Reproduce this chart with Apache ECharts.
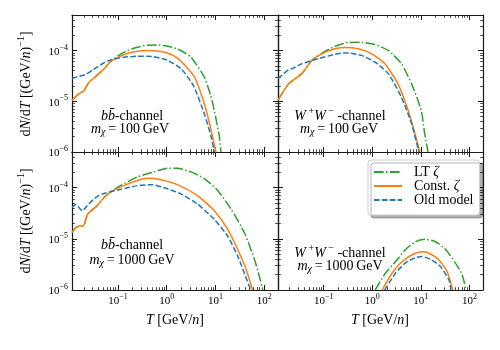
<!DOCTYPE html>
<html><head><meta charset="utf-8">
<script src="https://cdn.jsdelivr.net/npm/echarts@6/dist/echarts.min.js"></script>
<style>html,body{margin:0;padding:0;background:#fff}#c{width:500px;height:350px}</style>
</head><body><div id="c"></div>
<script>
// ---------------- data (T in GeV/n, dN/dT in (GeV/n)^-1) ----------------
const seriesNames = ['LT ζ', 'Const. ζ', 'Old model'];
const xTickExps = [-1, 0, 1, 2];
const yTickExps = [-6, -5, -4];

// top-left: b b-bar, m = 100 GeV
const tlLT = [[0.0115,1.05e-5],[0.0158,1.4e-5],[0.02,1.6e-5],[0.0251,2.3e-5],[0.0355,3.1e-5],[0.0501,4.2e-5],[0.0708,6.0e-5],[0.1,7.8e-5],[0.158,1.0e-4],[0.251,1.16e-4],[0.398,1.27e-4],[0.631,1.28e-4],[1,1.23e-4],[1.58,1.09e-4],[2.51,8.7e-5],[3.16,7.4e-5],[5.89,3.0e-5],[7.94,1.3e-5],[9.44,6.6e-6],[12.0,2.0e-6],[12.9,1.0e-6]];
const tlConst = [[0.0115,1.05e-5],[0.0158,1.4e-5],[0.02,1.6e-5],[0.0251,2.3e-5],[0.0355,3.1e-5],[0.0501,4.2e-5],[0.0708,6.0e-5],[0.1,7.3e-5],[0.158,8.8e-5],[0.251,9.7e-5],[0.398,1.0e-4],[0.631,9.8e-5],[1,9.0e-5],[1.58,7.3e-5],[2.51,4.8e-5],[3.72,3.0e-5],[5.89,9.0e-6],[8.13,2.7e-6],[10.2,1.0e-6]];
const tlOld = [[0.0115,2.8e-5],[0.0158,3.1e-5],[0.0224,3.4e-5],[0.0316,4.2e-5],[0.0501,5.6e-5],[0.0708,6.5e-5],[0.126,7.3e-5],[0.251,7.7e-5],[0.501,7.6e-5],[1,6.5e-5],[2.0,4.3e-5],[3.55,2.0e-5],[5.89,5.7e-6],[8.13,2.0e-6],[9.44,1.0e-6]];

// top-right: W+W-, m = 100 GeV
const trLT = [[0.0115,1.05e-5],[0.019,2.2e-5],[0.0355,3.5e-5],[0.0575,6.4e-5],[0.0912,8.8e-5],[0.17,1.21e-4],[0.324,1.44e-4],[0.603,1.45e-4],[1.14,1.31e-4],[2.14,1.0e-4],[3.98,5.5e-5],[6.46,2.2e-5],[10.2,6.6e-6],[12.0,2.3e-6],[14.1,1.0e-6]];
const trConst = [[0.0115,1.05e-5],[0.019,2.2e-5],[0.0355,3.5e-5],[0.0575,6.4e-5],[0.0912,8.6e-5],[0.17,1.08e-4],[0.275,1.15e-4],[0.513,1.08e-4],[0.98,8.6e-5],[1.82,5.5e-5],[3.39,2.2e-5],[5.5,6.6e-6],[7.59,2.3e-6],[9.55,1.0e-6]];
const trOld = [[0.0115,2.8e-5],[0.019,4.2e-5],[0.0229,4.4e-5],[0.0355,5.5e-5],[0.0776,6.9e-5],[0.17,8.4e-5],[0.251,8.9e-5],[0.324,8.9e-5],[0.603,8.0e-5],[1.14,5.9e-5],[2.14,3.5e-5],[3.98,1.2e-5],[6.46,3.6e-6],[9.12,1.0e-6]];

// bottom-left: b b-bar, m = 1000 GeV
const blLT = [[0.0115,1.33e-5],[0.0138,1.66e-5],[0.0174,1.8e-5],[0.0195,1.75e-5],[0.024,3.05e-5],[0.038,4.5e-5],[0.0525,6.5e-5],[0.0708,8.2e-5],[0.115,1.11e-4],[0.251,1.63e-4],[0.55,2.04e-4],[1.05,2.4e-4],[1.66,2.4e-4],[3.16,2.04e-4],[5.89,1.51e-4],[11.1,8.8e-5],[20.9,3.8e-5],[38.9,1.33e-5],[63.1,3.9e-6],[79.4,1.8e-6],[93.3,1.0e-6]];
const blConst = [[0.0115,1.33e-5],[0.0138,1.66e-5],[0.0174,1.8e-5],[0.0195,1.75e-5],[0.024,3.05e-5],[0.038,4.5e-5],[0.0525,6.5e-5],[0.0708,8.2e-5],[0.135,1.11e-4],[0.251,1.39e-4],[0.407,1.53e-4],[0.759,1.44e-4],[1.66,1.15e-4],[4.27,7.0e-5],[9.44,3.55e-5],[17.8,1.54e-5],[28.5,6.2e-6],[42.7,2.5e-6],[57.5,1.0e-6]];
const blOld = [[0.0115,4.1e-5],[0.0138,4.7e-5],[0.0186,3.55e-5],[0.0251,4.8e-5],[0.038,6.8e-5],[0.0562,7.9e-5],[0.115,9.3e-5],[0.251,1.1e-4],[0.501,1.15e-4],[0.891,1.0e-4],[1.95,7.6e-5],[4.27,4.8e-5],[9.44,2.4e-5],[17.8,1.13e-5],[28.5,4.6e-6],[38.9,2.15e-6],[52.5,1.0e-6]];

// bottom-right: W+W-, m = 1000 GeV
const brLT = [[1.15,1.0e-6],[1.88,2.15e-6],[3.02,3.6e-6],[4.84,6.2e-6],[7.76,8.8e-6],[12.6,9.8e-6],[20,8.8e-6],[32.4,6.2e-6],[51.3,3.4e-6],[70.8,2.0e-6],[85.1,1.0e-6]];
const brConst = [[1.6,1.0e-6],[2.57,2.15e-6],[4.13,3.6e-6],[6.61,4.9e-6],[10.7,5.6e-6],[14.5,5.3e-6],[23.4,3.9e-6],[34.7,2.3e-6],[45.7,1.0e-6]];
const brOld = [[1.8,1.0e-6],[3.02,2.15e-6],[4.84,3.4e-6],[7.76,4.3e-6],[10.7,4.5e-6],[15.8,4.0e-6],[25.1,2.9e-6],[37.6,1.6e-6],[41.7,1.0e-6]];

const panelData = [[tlLT,tlConst,tlOld],[trLT,trConst,trOld],[blLT,blConst,blOld],[brLT,brConst,brOld]];

// ---------------- styling / layout ----------------
const FONT = 'Liberation Serif';
const colors = ['#2ca02c', '#ff7f0e', '#1f77b4'];
const dashes = [[9.6,2.4,1.5,2.4], 'solid', [5.5,2.4]];
const X_MIN = Math.pow(10,-1.94), X_MAX = Math.pow(10,2.28);
const Y_MIN = 1e-6, Y_MAX = 5e-4;
const grids = [
  {left:72, top:15, width:206, height:137},
  {left:278, top:15, width:205, height:137},
  {left:72, top:152, width:206, height:138},
  {left:278, top:152, width:205, height:138}
];
const AX = '#1a1a1a';
function supTxt(v){ const n = Math.round(v); return n < 0 ? '\u2212' + (-n) : '' + n; }
function minorLogs(lo, hi){
  const out = [];
  for (let e = Math.floor(lo) - 1; e <= Math.ceil(hi); e++) {
    for (let k = 2; k <= 9; k++) { const v = e + Math.log10(k); if (v > lo + 1e-6 && v < hi - 1e-6) out.push(v); }
  }
  return out;
}
const tickRich = {
  b: {fontFamily:FONT, fontSize:11, lineHeight:14, verticalAlign:'bottom', color:'#000'},
  s: {fontFamily:FONT, fontSize:8, lineHeight:14, verticalAlign:'top', color:'#000'}
};
function majorAxis(g, pos, lo, hi, ticks, showLabel, isX){
  return {gridIndex:g, type:'value', position:pos, min:lo, max:hi, silent:true,
    axisLine:{show:true, onZero:false, lineStyle:{color:AX, width:1.2}},
    axisTick:{show:true, inside:true, length:5, customValues:ticks, lineStyle:{color:AX, width:1}},
    axisLabel:{show:showLabel, customValues:ticks, margin: isX ? 3 : 4,
      formatter: v => '{b|10}{s|' + supTxt(v) + '}', rich: tickRich},
    splitLine:{show:false}, minorTick:{show:false}};
}
function minorAxis(g, pos, lo, hi, ticks){
  return {gridIndex:g, type:'value', position:pos, min:lo, max:hi, silent:true,
    axisLine:{show:false, onZero:false},
    axisTick:{show:true, inside:true, length:2.8, customValues:ticks, lineStyle:{color:AX, width:0.8}},
    axisLabel:{show:false}, splitLine:{show:false}};
}
const xAxes = [], yAxes = [];
const xlo = Math.log10(X_MIN), xhi = Math.log10(X_MAX), ylo = Math.log10(Y_MIN), yhi = Math.log10(Y_MAX);
const xMinor = minorLogs(xlo, xhi), yMinor = minorLogs(ylo, yhi);
grids.forEach((g, i) => {
  const bottomRow = i >= 2, leftCol = i % 2 === 0;
  xAxes.push({gridIndex:i, type:'log', min:X_MIN, max:X_MAX, show:false});
  yAxes.push({gridIndex:i, type:'log', min:Y_MIN, max:Y_MAX, show:false});
  ['bottom','top'].forEach(pos => {
    xAxes.push(majorAxis(i, pos, xlo, xhi, xTickExps, pos === 'bottom' && bottomRow, true));
    xAxes.push(minorAxis(i, pos, xlo, xhi, xMinor));
  });
  ['left','right'].forEach(pos => {
    yAxes.push(majorAxis(i, pos, ylo, yhi, yTickExps, pos === 'left' && leftCol, false));
    yAxes.push(minorAxis(i, pos, ylo, yhi, yMinor));
  });
});
const series = [];
panelData.forEach((arrs, i) => {
  arrs.forEach((data, k) => {
    series.push({type:'line', name:seriesNames[k], xAxisIndex:5*i, yAxisIndex:5*i, data:data,
      symbol:'none', showSymbol:false, smooth:0.2, clip:true, z:2+k,
      lineStyle:{color:colors[k], width:1.5, type:dashes[k]}, itemStyle:{color:colors[k]}});
  });
});

// ---------------- text ----------------
const txt = (x, y, text, rich, rot) => ({type:'text', x:x, y:y, rotation: rot || 0, silent:true, z:50,
  style:{text:text, rich:rich, align:'center', verticalAlign:'middle', fontFamily:FONT, fontSize:14, fill:'#000'}});
const S = (size, va, lh, italic) => ({fontFamily:FONT, fontSize:size, lineHeight:lh, verticalAlign:va, fontStyle: italic ? 'italic' : 'normal', color:'#000'});
const yLabRich = {r:S(14,'bottom',17), i:S(14,'bottom',17,true), s:S(10,'top',17)};
const xLabRich = {r:S(14,'middle',16), i:S(14,'middle',16,true)};
const chanRich = {r:S(14,'middle',16), i:S(14,'middle',16,true)};
const wRich = {r:S(14,'bottom',17), i:S(14,'bottom',17,true), s:S(10,'top',17)};
const mRich = {r:S(14,'top',15), i:S(14,'top',15,true), u:S(10,'bottom',15,true)};
const yLab = '{r|d}{i|N}{r|/d}{i|T}{r| [(GeV/}{i|n}{r|)}{s|\u22121}{r|]}';
const xLab = '{i|T}{r| [GeV/}{i|n}{r|]}';
const bbLab = '{i|bb\u0304}{r|-channel}';
const wwLab = '{i|W}{s| +}{i|W}{s| \u2212}{r| -channel}';
const m100 = '{i|m}{u|\u03c7}{r|\u2009=\u2009100\u2009GeV}';
const m1000 = '{i|m}{u|\u03c7}{r|\u2009=\u20091000\u2009GeV}';
const graphics = [
  txt(25, 84, yLab, yLabRich, Math.PI/2),
  txt(25, 221, yLab, yLabRich, Math.PI/2),
  txt(175, 320, xLab, xLabRich),
  txt(380, 320, xLab, xLabRich),
  txt(132, 116, bbLab, chanRich),
  txt(130, 130, m100, mRich),
  txt(340, 115, wwLab, wRich),
  txt(339, 130, m100, mRich),
  txt(132, 245, bbLab, chanRich),
  txt(132, 261, m1000, mRich),
  txt(340, 252, wwLab, wRich),
  txt(340, 267, m1000, mRich)
];

const chart = echarts.init(document.getElementById('c'), null, {renderer:'canvas'});
chart.setOption({
  animation:false,
  backgroundColor:'#fff',
  grid: grids,
  xAxis: xAxes,
  yAxis: yAxes,
  series: series,
  legend: {
    data: seriesNames, orient:'vertical', left:368, top:160,
    itemWidth:28, itemHeight:12, itemGap:0, padding:[5,6,8,5],
    backgroundColor:'#fff', borderColor:'#cccccc', borderWidth:1, borderRadius:3,
    shadowColor:'rgba(0,0,0,0.3)', shadowOffsetX:3, shadowOffsetY:3, shadowBlur:0,
    selectedMode:false,
    itemStyle:{opacity:0, borderWidth:0},
    formatter: n => n.replace('ζ', '{i|ζ}'),
    textStyle:{fontFamily:FONT, fontSize:14, lineHeight:12, color:'#000', padding:[0,0,0,7],
      rich:{i:{fontFamily:FONT, fontSize:14, fontStyle:'italic', color:'#000'}}}
  },
  graphic: graphics
});
</script></body></html>
